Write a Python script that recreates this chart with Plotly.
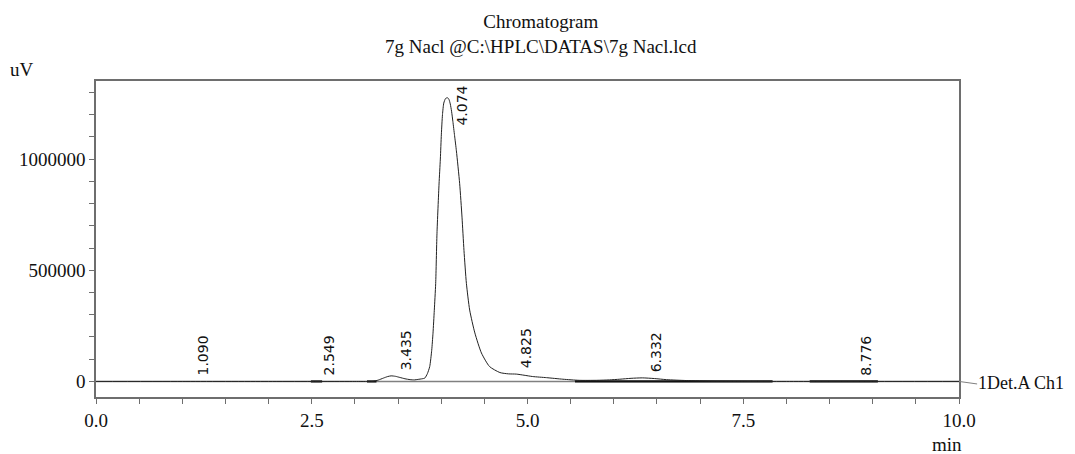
import plotly.graph_objects as go

# ---- data ----
time_min = [0.0, 1.0, 2.0, 3.0, 3.15, 3.21, 3.27, 3.33, 3.38, 3.42, 3.47, 3.52, 3.58, 3.64, 3.69, 3.73,
            3.78, 3.81, 3.84, 3.867, 3.89, 3.905, 3.92, 3.936, 3.951, 3.975, 3.99, 4.002, 4.015, 4.03,
            4.05, 4.072, 4.09, 4.105, 4.12, 4.135, 4.155, 4.176, 4.214, 4.241, 4.264, 4.292, 4.33, 4.39,
            4.466, 4.56, 4.68, 4.78, 4.87, 4.96, 5.06, 5.22, 5.41, 5.6, 5.8, 5.95, 6.07, 6.2, 6.33,
            6.47, 6.61, 6.84, 7.15, 7.5, 8.0, 9.0, 10.0]
signal_uv = [0, 0, 0, 0, 0, 500, 6000, 15000, 22000, 25000, 23000, 18000, 12000, 8000, 7000, 9000,
             12000, 15000, 35000, 67000, 140000, 217000, 320000, 440000, 664000, 888000, 1000000,
             1112000, 1200000, 1252000, 1272000, 1276000, 1268000, 1248000, 1215000, 1170000, 1105000,
             1037000, 889000, 739000, 589000, 441000, 321000, 218000, 128000, 67000, 40000, 34000, 33000,
             28000, 22000, 17000, 10000, 5000, 5000, 7000, 10000, 14000, 16000, 13000, 8000, 4000, 1000,
             0, 0, 0, 0]

peak_rt = [1.090, 2.549, 3.435, 4.074, 4.825, 6.332, 8.776]
peak_height = [0, 0, 25000, 1276000, 34000, 16000, 0]
peak_labels = ["1.090", "2.549", "3.435", "4.074", "4.825", "6.332", "8.776"]

# integration baseline segments (start, end) in min
baseline_start = [2.49, 3.14, 5.55, 8.27]
baseline_end = [2.62, 3.25, 7.84, 9.06]

x_ticks = [0.0, 2.5, 5.0, 7.5, 10.0]
x_tick_text = ["0.0", "2.5", "5.0", "7.5", "10.0"]
y_ticks = [0, 500000, 1000000]
y_tick_text = ["0", "500000", "1000000"]

X_RANGE = [0, 10]
Y_RANGE = [-70000, 1351000]

serif = "Liberation Serif, Times New Roman, serif"
sans = "DejaVu Sans, Verdana, sans-serif"
ink = "#111111"

fig = go.Figure()

# zero baseline (gray)
fig.add_trace(go.Scatter(x=[X_RANGE[0], X_RANGE[1]], y=[0, 0], mode="lines",
                         line=dict(color="#808080", width=1.5), hoverinfo="skip", showlegend=False))

# integration baselines (dark)
for s, e in zip(baseline_start, baseline_end):
    fig.add_trace(go.Scatter(x=[s, e], y=[0, 0], mode="lines",
                             line=dict(color=ink, width=2.2), hoverinfo="skip", showlegend=False))

# chromatogram trace
fig.add_trace(go.Scatter(x=time_min, y=signal_uv, mode="lines", line_shape="spline",
                         line=dict(color="#222222", width=1, smoothing=0.6), showlegend=False))

# peak labels
for rt, h, lab in zip(peak_rt, peak_height, peak_labels):
    if h > 0.9 * Y_RANGE[1]:
        fig.add_annotation(x=rt, xref="x", y=1, yref="paper", yanchor="top", yshift=-3,
                           xanchor="center", xshift=14, text=lab, textangle=-90, showarrow=False,
                           font=dict(family=sans, size=14, color=ink))
    else:
        fig.add_annotation(x=rt, xref="x", y=h, yref="y", yanchor="bottom", yshift=4,
                           xanchor="center", xshift=13, text=lab, textangle=-90, showarrow=False,
                           font=dict(family=sans, size=14, color=ink))

# connector to channel label
zero_frac = (0 - Y_RANGE[0]) / (Y_RANGE[1] - Y_RANGE[0])
fig.add_shape(type="line", xref="paper", yref="paper", x0=1.0, x1=1.021,
              y0=zero_frac, y1=zero_frac - 0.008, line=dict(color="#808080", width=1))
fig.add_annotation(xref="paper", yref="paper", x=1.0195, y=zero_frac - 0.006, xanchor="left",
                   yanchor="middle", text="1Det.A Ch1", showarrow=False,
                   font=dict(family=serif, size=18, color=ink))

# title
fig.add_annotation(xref="paper", yref="paper", x=0.5, y=1, yanchor="bottom", yshift=22, xshift=13,
                   text="Chromatogram<br>7g Nacl @C:\\HPLC\\DATAS\\7g Nacl.lcd", showarrow=False,
                   font=dict(family=serif, size=19, color=ink))
# axis unit labels
fig.add_annotation(xref="paper", yref="paper", x=-0.102, y=1, xanchor="left", yanchor="bottom",
                   yshift=-1, text="uV", showarrow=False, font=dict(family=serif, size=19, color=ink))
fig.add_annotation(xref="paper", yref="paper", x=1.0, y=0, xanchor="center", yanchor="top",
                   xshift=-12, yshift=-35, text="min", showarrow=False,
                   font=dict(family=serif, size=19, color=ink))

axis_col = "#6e6e6e"
fig.update_xaxes(range=X_RANGE, tickvals=x_ticks, ticktext=x_tick_text, ticks="outside", ticklen=5,
                 tickcolor=axis_col, showline=True, linecolor=axis_col, linewidth=1.5, mirror=True,
                 showgrid=False, zeroline=False,
                 minor=dict(dtick=0.5, tick0=0, ticks="outside", ticklen=5, tickcolor=axis_col),
                 tickfont=dict(family=serif, size=19, color=ink))
fig.update_yaxes(range=Y_RANGE, tickvals=y_ticks, ticktext=y_tick_text, ticks="outside", ticklen=5,
                 tickcolor=axis_col, showline=True, linecolor=axis_col, linewidth=1.5, mirror=True,
                 showgrid=False, zeroline=False,
                 minor=dict(dtick=100000, tick0=0, ticks="outside", ticklen=5, tickcolor=axis_col),
                 tickfont=dict(family=serif, size=19, color=ink))

# the page places the figure 8px from the top-left corner
fig.update_layout(width=1067, height=446, margin=dict(l=88, r=116, t=73, b=57),
                  paper_bgcolor="white", plot_bgcolor="white", showlegend=False)

fig.write_html("out.html")
